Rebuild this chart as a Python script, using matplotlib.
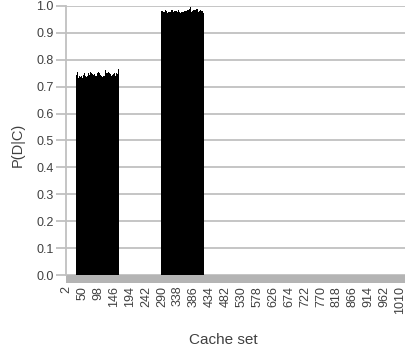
import numpy as np
import matplotlib.pyplot as plt

plt.rcParams['font.family'] = ['Liberation Sans', 'DejaVu Sans']

# cache sets 1..1024, P(D|C) per set
n_sets = 1024
first_block_start = 32
second_block_start = 288

first_block = [
    0.742, 0.751, 0.738, 0.756, 0.745, 0.749, 0.733, 0.747, 0.752, 0.741, 0.758, 0.744, 0.736, 0.750, 0.746, 0.739,
    0.754, 0.748, 0.731, 0.745, 0.757, 0.743, 0.750, 0.737, 0.749, 0.760, 0.744, 0.739, 0.752, 0.746, 0.735, 0.748,
    0.755, 0.741, 0.747, 0.738, 0.750, 0.744, 0.759, 0.742, 0.736, 0.749, 0.753, 0.740, 0.746, 0.751, 0.737, 0.745,
    0.748, 0.756, 0.739, 0.743, 0.750, 0.734, 0.747, 0.752, 0.744, 0.738, 0.761, 0.745, 0.741, 0.749, 0.736, 0.751,
    0.743, 0.747, 0.755, 0.740, 0.737, 0.752, 0.746, 0.749, 0.742, 0.758, 0.744, 0.739, 0.750, 0.747, 0.735, 0.753,
    0.745, 0.741, 0.756, 0.748, 0.738, 0.751, 0.743, 0.749, 0.762, 0.740, 0.746, 0.752, 0.737, 0.744, 0.750, 0.745,
    0.739, 0.754, 0.747, 0.742, 0.749, 0.757, 0.736, 0.748, 0.744, 0.751, 0.740, 0.746, 0.753, 0.743, 0.738, 0.750,
    0.747, 0.755, 0.741, 0.749, 0.745, 0.752, 0.739, 0.758, 0.744, 0.750, 0.746, 0.753, 0.748, 0.760, 0.751, 0.765,
]

second_block = [
    0.975, 0.982, 0.978, 0.986, 0.980, 0.973, 0.984, 0.979, 0.988, 0.981, 0.976, 0.983, 0.977, 0.985, 0.980, 0.974,
    0.982, 0.987, 0.979, 0.975, 0.984, 0.981, 0.978, 0.990, 0.983, 0.976, 0.980, 0.985, 0.979, 0.982, 0.974, 0.986,
    0.981, 0.977, 0.983, 0.980, 0.988, 0.978, 0.984, 0.975, 0.982, 0.979, 0.986, 0.981, 0.977, 0.983, 0.980, 0.991,
    0.984, 0.978, 0.982, 0.976, 0.985, 0.980, 0.983, 0.979, 0.987, 0.981, 0.975, 0.984, 0.980, 0.978, 0.986, 0.982,
    0.979, 0.992, 0.983, 0.977, 0.981, 0.985, 0.980, 0.978, 0.984, 0.982, 0.976, 0.988, 0.981, 0.979, 0.983, 0.986,
    0.980, 0.977, 0.984, 0.982, 0.979, 0.989, 0.983, 0.980, 0.996, 0.985, 0.981, 0.978, 0.984, 0.987, 0.982, 0.979,
    0.986, 0.983, 0.980, 0.988, 0.984, 0.981, 0.993, 0.985, 0.979, 0.983, 0.987, 0.982, 0.980, 0.990, 0.984, 0.981,
    0.978, 0.986, 0.983, 0.980, 0.988, 0.982, 0.985, 0.979, 0.984, 0.981, 0.976, 0.983, 0.980, 0.978, 0.982, 0.975,
]

tick_sets = list(range(2, 1011, 48))

cache_sets = np.arange(1, n_sets + 1)
p_dc = np.zeros(n_sets)
p_dc[first_block_start - 1:first_block_start - 1 + len(first_block)] = first_block
p_dc[second_block_start - 1:second_block_start - 1 + len(second_block)] = second_block

text_col = '#404040'
grid_col = '#c0c0c0'

fig = plt.figure(figsize=(4.08, 3.46), dpi=100)
ax = fig.add_axes([0.162, 0.182, 0.831, 0.801])

ax.bar(cache_sets, p_dc, width=1.0, color='black', linewidth=0, zorder=3)

# grey floor under the bars
floor = -0.0297
ax.axhspan(floor, 0, color='#b4b4b4', linewidth=0, zorder=2)

ax.set_xlim(0.5, n_sets + 0.5)
ax.set_ylim(floor, 1.0)

ax.set_yticks(np.arange(0, 1.01, 0.1))
ax.set_yticklabels([f'{v:.1f}' for v in np.arange(0, 1.01, 0.1)])
ax.yaxis.grid(True, color=grid_col, linewidth=1.3, zorder=1)
ax.set_axisbelow(True)

ax.set_xticks(tick_sets)
ax.set_xticklabels([str(t) for t in tick_sets], rotation=90)

for s in ['top', 'right', 'bottom']:
    ax.spines[s].set_visible(False)
ax.spines['left'].set_color(grid_col)
ax.spines['left'].set_linewidth(1.3)
ax.spines['left'].set_bounds(0, 1.0)

ax.tick_params(axis='y', length=7, width=1.3, color=grid_col, labelcolor=text_col, labelsize=9, pad=2)
ax.tick_params(axis='x', length=0, labelcolor=text_col, labelsize=9, pad=2)

ax.set_xlabel('Cache set', color=text_col, fontsize=11)
ax.xaxis.set_label_coords(0.463, -0.18)
ax.set_ylabel('P(D|C)', color=text_col, fontsize=10.5, labelpad=8)

fig.savefig('out.png', dpi=100)
